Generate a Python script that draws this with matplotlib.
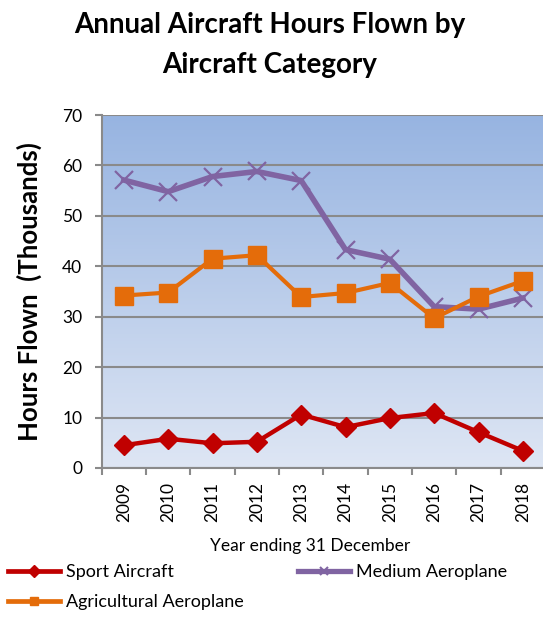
import matplotlib
matplotlib.use("Agg")
import matplotlib.pyplot as plt
import numpy as np
from matplotlib.lines import Line2D
from matplotlib.colors import LinearSegmentedColormap

years = ["2009", "2010", "2011", "2012", "2013", "2014", "2015", "2016", "2017", "2018"]
sport = [4.5, 5.8, 4.9, 5.2, 10.6, 8.1, 9.9, 10.9, 7.1, 3.4]
medium = [57.1, 54.8, 57.8, 58.8, 57.0, 43.3, 41.4, 32.0, 31.5, 33.7]
agri = [34.2, 34.8, 41.5, 42.2, 33.9, 34.7, 36.7, 29.7, 34.0, 37.1]

FONT = ['Lato', 'DejaVu Sans']
plt.rcParams['font.family'] = FONT

W, H = 543, 617
fig = plt.figure(figsize=(W / 100, H / 100), dpi=100)
ax = fig.add_axes([101.7 / W, (H - 468) / H, (545 - 101.7) / W, (468 - 115) / H])

# gradient background
cmap = LinearSegmentedColormap.from_list("bg", ["#DEE6F4", "#97B4E1"])
grad = np.linspace(0, 1, 256).reshape(-1, 1)
ax.imshow(grad, cmap=cmap, aspect='auto', extent=(0, 1, 0, 1), origin='lower',
          transform=ax.transAxes, zorder=0)

x = np.arange(len(years))
ax.plot(x, medium, color="#8064A2", lw=4.0, marker='x', ms=13, mew=1.6, zorder=3)
ax.plot(x, agri, color="#E46C0A", lw=3.0, marker='s', ms=13, zorder=4)
ax.plot(x, sport, color="#C00000", lw=3.2, marker='D', ms=10, zorder=5)

ax.set_xlim(-0.5, 9.5)
ax.set_ylim(0, 70)
ax.set_yticks(range(0, 71, 10))
ax.yaxis.grid(True, color="#8A8A8A", lw=1.5)
ax.set_axisbelow(True)
for s in ['top', 'right']:
    ax.spines[s].set_visible(False)
for s in ['left', 'bottom']:
    ax.spines[s].set_color("#8A8A8A")
    ax.spines[s].set_linewidth(1.5)
    ax.spines[s].set_zorder(2)

ax.set_xticks(x)
ax.set_xticklabels(years, rotation=90, fontsize=12.5)
ax.set_xticks(np.arange(-0.5, 10, 1), minor=True)
ax.tick_params(axis='x', which='major', length=0, pad=10)
ax.tick_params(axis='x', which='minor', length=5, width=1.5, color="#8A8A8A", direction='out')
ax.tick_params(axis='y', length=5, width=1.5, color="#8A8A8A", labelsize=12.5, pad=9)

ax.set_ylabel("Hours Flown  (Thousands)", fontsize=18.5, fontweight='bold')
ax.yaxis.set_label_coords((42 - 101.7) / (545 - 101.7), 0.5)
ax.set_xlabel("Year ending 31 December", fontsize=12.5)
ax.xaxis.set_label_coords((310.5 - 101.7) / (545 - 101.7), -(546 - 468) / (468 - 115))
ax.xaxis.label.set_va('center')

fig.text(269.5 / W, 1 - 25 / H, "Annual Aircraft Hours Flown by",
         ha='center', va='center', fontsize=20, fontweight='bold')
fig.text(269.5 / W, 1 - 65 / H, "Aircraft Category",
         ha='center', va='center', fontsize=20, fontweight='bold')

h_sport = Line2D([], [], color="#C00000", lw=3.4, marker='D', ms=6)
h_agri = Line2D([], [], color="#E46C0A", lw=3.4, marker='s', ms=6)
h_med = Line2D([], [], color="#8064A2", lw=3.8, marker='x', ms=6, mew=1.5)

leg_kw = dict(frameon=False, fontsize=13, handlelength=2.9, handletextpad=0.3,
              labelspacing=0.8, borderaxespad=0, borderpad=0)
leg1 = fig.legend([h_sport, h_agri], ["Sport Aircraft", "Agricultural Aeroplane"],
                  loc='upper left', bbox_to_anchor=(8 / W, 1 - 564 / H), **leg_kw)
leg2 = fig.legend([h_med], ["Medium Aeroplane"],
                  loc='upper left', bbox_to_anchor=(298 / W, 1 - 564 / H), **leg_kw)

fig.savefig("out.png", dpi=100)
